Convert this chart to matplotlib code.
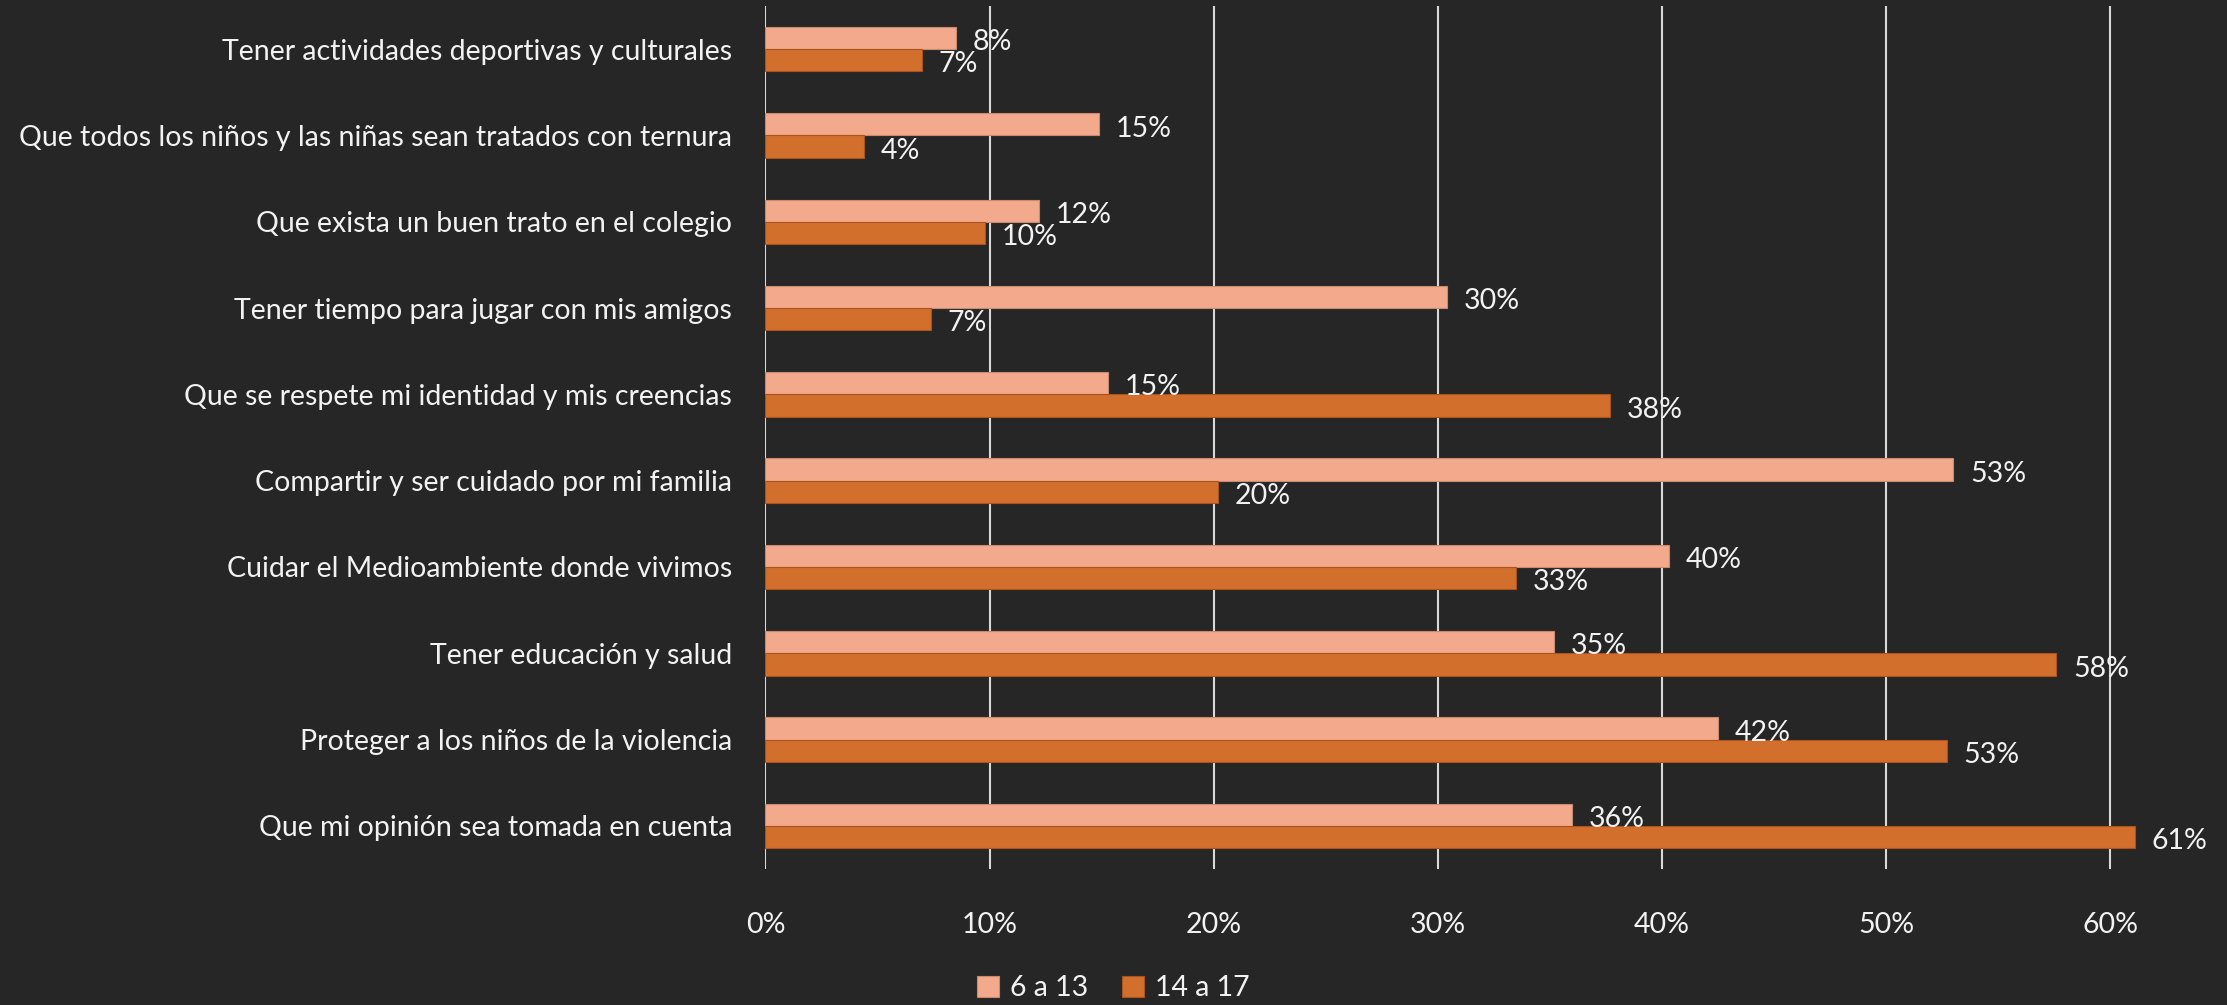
import numpy as np
import matplotlib.pyplot as plt
from matplotlib.ticker import PercentFormatter

plt.rcParams['font.family'] = ['Lato', 'DejaVu Sans']
plt.rcParams['font.weight'] = 'normal'

# categorías (de arriba hacia abajo)
categorias = [
    'Tener actividades deportivas y culturales',
    'Que todos los niños y las niñas sean tratados con ternura',
    'Que exista un buen trato en el colegio',
    'Tener tiempo para jugar con mis amigos',
    'Que se respete mi identidad y mis creencias',
    'Compartir y ser cuidado por mi familia',
    'Cuidar el Medioambiente donde vivimos',
    'Tener educación y salud',
    'Proteger a los niños de la violencia',
    'Que mi opinión sea tomada en cuenta',
]
grupos = ['6 a 13', '14 a 17']
vals_6_13 = [0.085, 0.149, 0.122, 0.304, 0.153, 0.530, 0.403, 0.352, 0.425, 0.360]
vals_14_17 = [0.070, 0.044, 0.098, 0.074, 0.377, 0.202, 0.335, 0.576, 0.527, 0.611]
etiq_6_13 = ['8%', '15%', '12%', '30%', '15%', '53%', '40%', '35%', '42%', '36%']
etiq_14_17 = ['7%', '4%', '10%', '7%', '38%', '20%', '33%', '58%', '53%', '61%']

bg = '#262626'
c_claro = '#F2A98C'
c_oscuro = '#D36F2C'
txt = '#F2F2F2'
fs = 20.5

fig = plt.figure(figsize=(22.27, 10.05), dpi=100, facecolor=bg)
ax = fig.add_axes([0.3437, 0.1353, 0.624, 0.8587], facecolor=bg)

y = np.arange(len(categorias))
h = 0.258
b1 = ax.barh(y - h / 2, vals_6_13, height=h, color=c_claro, edgecolor='#C98A70',
             linewidth=0.8, label=grupos[0], zorder=3)
b2 = ax.barh(y + h / 2, vals_14_17, height=h, color=c_oscuro, edgecolor='#A9531E',
             linewidth=0.8, label=grupos[1], zorder=3)

for barras, etiq in [(b1, etiq_6_13), (b2, etiq_14_17)]:
    for r, t in zip(barras, etiq):
        ax.annotate(t, (r.get_width(), r.get_y() + r.get_height() / 2),
                    xytext=(12, -3), textcoords='offset points', va='center',
                    ha='left', color=txt, fontsize=fs, zorder=4)

ax.set_ylim(9.5, -0.5)
ax.set_xlim(0, 0.62)
ax.set_xticks(np.arange(0, 0.61, 0.1))
ax.xaxis.set_major_formatter(PercentFormatter(1.0, decimals=0))
ax.set_yticks(y)
ax.set_yticklabels(categorias)

ax.grid(axis='x', color='#D9D9D9', linewidth=1.5, zorder=0)
for s in ax.spines.values():
    s.set_visible(False)
ax.tick_params(axis='y', length=0, pad=24, labelsize=fs, labelcolor=txt)
ax.tick_params(axis='x', length=0, pad=31, labelsize=fs, labelcolor=txt)

leg = fig.legend(loc='lower center', bbox_to_anchor=(0.5, -0.022), ncol=2, frameon=False,
                 fontsize=fs, labelcolor=txt, handlelength=0.75, handleheight=0.75,
                 handletextpad=0.4, columnspacing=1.2)

fig.savefig('out.png', dpi=100, facecolor=bg)
